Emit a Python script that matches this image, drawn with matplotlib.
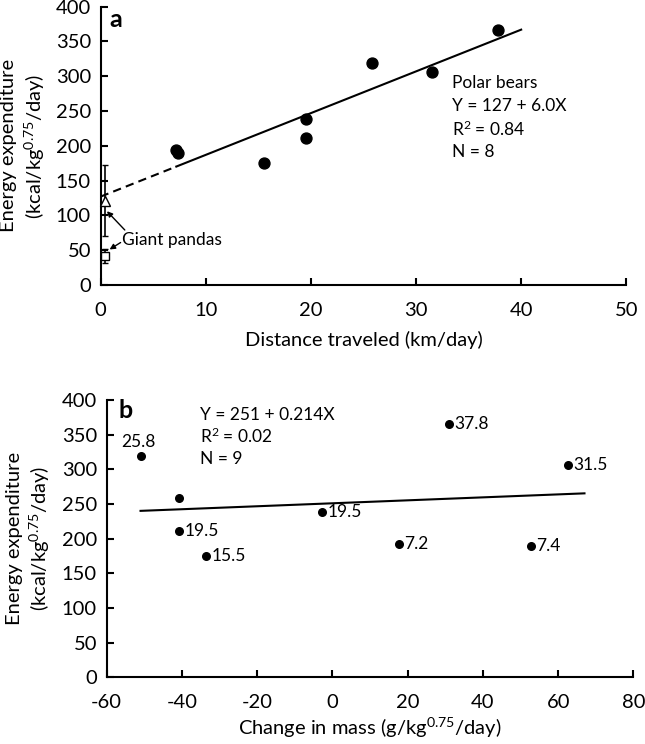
import matplotlib.pyplot as plt
import numpy as np

plt.rcParams['font.family'] = ['Lato', 'DejaVu Sans']
plt.rcParams['mathtext.fontset'] = 'custom'
plt.rcParams['mathtext.rm'] = 'Lato'
plt.rcParams['mathtext.it'] = 'Lato:italic'
plt.rcParams['mathtext.bf'] = 'Lato:bold'
plt.rcParams['axes.unicode_minus'] = False

# panel a: polar bears, distance traveled vs energy expenditure
dist = [7.2, 7.4, 15.5, 19.5, 19.5, 25.8, 31.5, 37.8]
energy_a = [194, 190, 175, 239, 211, 319, 306, 366]
fit_a = (127, 6.0)  # intercept, slope
fit_a_dashed = [0, 7.2]
fit_a_solid = [7.2, 40]

# giant pandas (mean, error)
panda_x = [0.4, 0.4]
panda_y = [121, 42]
panda_err = [51, 10]

# panel b: change in mass vs energy expenditure, labelled by distance
mass = [-50.9, -40.8, -40.8, -33.6, -2.7, 17.7, 30.9, 62.6, 52.8]
energy_b = [319, 259, 211, 175, 239, 193, 366, 306, 190]
labels_b = ['25.8', '', '19.5', '15.5', '19.5', '7.2', '37.8', '31.5', '7.4']
fit_b = (251, 0.214)
fit_b_range = [-51, 67]

fig = plt.figure(figsize=(6.45, 7.44), dpi=100)
ax1 = fig.add_axes([0.156, 0.617, 0.815, 0.374])
ax2 = fig.add_axes([0.1654, 0.0896, 0.8166, 0.3728])

def style(ax):
    for s in ['top', 'right']:
        ax.spines[s].set_visible(False)
    for s in ['left', 'bottom']:
        ax.spines[s].set_linewidth(1.5)
    ax.tick_params(axis='both', direction='in', length=5, width=1.5, labelsize=14.5)
    ax.tick_params(axis='y', pad=7)
    ax.tick_params(axis='x', pad=12)
    ax.set_ylim(0, 400)
    ax.set_yticks(np.arange(0, 401, 50))

# ---- panel a
style(ax1)
ax1.set_xlim(0, 50)
ax1.set_xticks(np.arange(0, 51, 10))
ax1.scatter(dist, energy_a, s=62, color='k', zorder=3, clip_on=False)
xd = np.array(fit_a_dashed)
xs = np.array(fit_a_solid)
ax1.plot(xd, fit_a[0] + fit_a[1] * xd, color='k', lw=1.5, dashes=(4, 2.5))
ax1.plot(xs, fit_a[0] + fit_a[1] * xs, color='k', lw=1.5)

ax1.errorbar(panda_x[0], panda_y[0], yerr=panda_err[0], fmt='^', mfc='white', mec='k',
             ms=7, ecolor='k', elinewidth=1.2, capsize=2.5, zorder=4, clip_on=False)
ax1.errorbar(panda_x[1], panda_y[1], yerr=panda_err[1], fmt='s', mfc='white', mec='k',
             ms=6, ecolor='k', elinewidth=1.2, capsize=2.5, zorder=4, clip_on=False)
ax1.text(2.0, 65, 'Giant pandas', fontsize=12.5, va='center', ha='left')
ax1.annotate('', xy=(0.6, 106), xytext=(2.3, 79),
             arrowprops=dict(arrowstyle='-|>', color='k', lw=1, mutation_scale=8,
                             shrinkA=0, shrinkB=0))
ax1.annotate('', xy=(0.85, 51), xytext=(1.9, 61),
             arrowprops=dict(arrowstyle='-|>', color='k', lw=1, mutation_scale=8,
                             shrinkA=0, shrinkB=0))

ax1.text(1.4, 381, 'a', fontsize=18, fontweight='bold', va='center', ha='center')
ax1.text(33.4, 290, 'Polar bears', fontsize=12.5, va='center')
ax1.text(33.4, 257, 'Y = 127 + 6.0X', fontsize=12.5, va='center')
ax1.text(33.4, 224, 'R$^2$ = 0.84', fontsize=12.5, va='center')
ax1.text(33.4, 191, 'N = 8', fontsize=12.5, va='center')

ax1.set_xlabel('Distance traveled (km/day)', fontsize=14.5)
ax1.set_ylabel('Energy expenditure\n(kcal/kg$^{0.75}$/day)', fontsize=14.5, linespacing=1.3)
ax1.xaxis.set_label_coords(0.5, -0.165)
ax1.yaxis.set_label_coords(-0.146, 0.5)
ax1.yaxis.label.set_va('center')

# ---- panel b
style(ax2)
ax2.set_xlim(-60, 80)
ax2.set_xticks(np.arange(-60, 81, 20))
ax2.scatter(mass, energy_b, s=30, color='k', zorder=3)
xb = np.array(fit_b_range)
ax2.plot(xb, fit_b[0] + fit_b[1] * xb, color='k', lw=1.5)
for mx, ey, lab in zip(mass, energy_b, labels_b):
    if lab == '25.8':
        ax2.annotate(lab, (mx, ey), xytext=(-2, 10), textcoords='offset points',
                     ha='center', va='center', fontsize=12.5)
    elif lab:
        ax2.annotate(lab, (mx, ey), xytext=(4, 0), textcoords='offset points',
                     ha='left', va='center', fontsize=12.5)

ax2.text(-55.1, 385, 'b', fontsize=18, fontweight='bold', va='center', ha='center')
ax2.text(-35.2, 378, 'Y = 251 + 0.214X', fontsize=12.5, va='center')
ax2.text(-35.2, 347, 'R$^2$ = 0.02', fontsize=12.5, va='center')
ax2.text(-35.2, 315, 'N = 9', fontsize=12.5, va='center')

ax2.set_xlabel('Change in mass (g/kg$^{0.75}$/day)', fontsize=14.5)
ax2.set_ylabel('Energy expenditure\n(kcal/kg$^{0.75}$/day)', fontsize=14.5, linespacing=1.3)
ax2.xaxis.set_label_coords(0.5, -0.14)
ax2.yaxis.set_label_coords(-0.1475, 0.5)
ax2.yaxis.label.set_va('center')

fig.savefig('out.png', dpi=100)
